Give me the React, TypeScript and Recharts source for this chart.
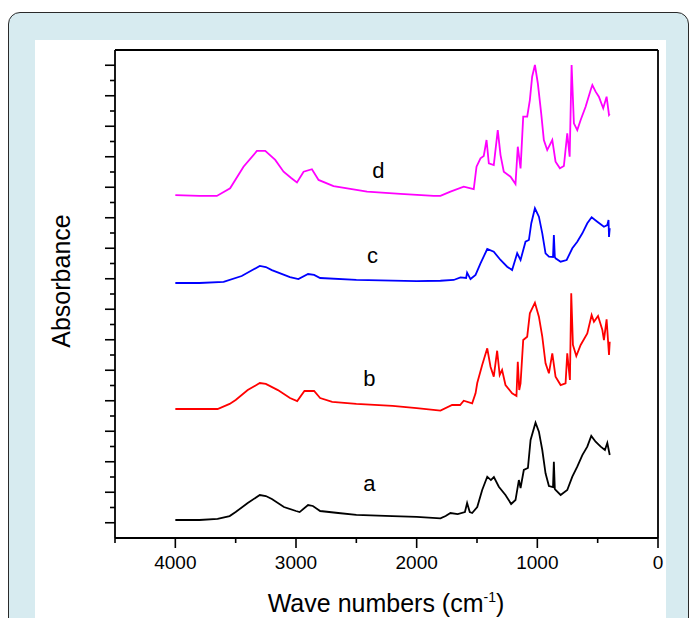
import { LineChart, Line, XAxis, YAxis, ReferenceDot } from 'recharts';

// wave numbers (cm-1) and absorbance
const waveA = [4000, 3800, 3650, 3550, 3500, 3400, 3300, 3250, 3200, 3100, 3000, 2970, 2900, 2860, 2800, 2650, 2500, 2200, 2000, 1803, 1760, 1720, 1660, 1600, 1582, 1560, 1540, 1498, 1457, 1415, 1385, 1360, 1319, 1264, 1217, 1181, 1153, 1139, 1112, 1078, 1056, 1015, 987, 959, 932, 904, 870, 863, 855, 849, 807, 752, 710, 669, 627, 586, 553, 517, 475, 440, 420, 400];
const absA = [1.18, 1.18, 1.25, 1.44, 1.7, 2.3, 2.82, 2.75, 2.56, 2.03, 1.77, 1.7, 2.16, 2.1, 1.77, 1.64, 1.51, 1.44, 1.38, 1.29, 1.44, 1.64, 1.57, 1.7, 2.3, 1.7, 1.64, 2.03, 3.15, 4.02, 3.8, 4.0, 3.36, 2.82, 2.23, 2.49, 3.8, 3.28, 4.46, 4.59, 6.43, 7.56, 6.97, 5.77, 4.24, 3.41, 3.34, 5.0, 3.21, 3.15, 2.82, 3.15, 4.02, 4.68, 5.44, 5.99, 6.69, 6.31, 5.99, 5.77, 6.23, 5.44];

const waveB = [4000, 3800, 3650, 3550, 3500, 3400, 3300, 3250, 3150, 3050, 2990, 2930, 2850, 2800, 2700, 2500, 2200, 2000, 1803, 1706, 1640, 1610, 1540, 1512, 1498, 1457, 1415, 1388, 1361, 1333, 1312, 1292, 1264, 1209, 1173, 1162, 1150, 1139, 1117, 1084, 1062, 1020, 987, 959, 932, 904, 876, 849, 807, 766, 752, 730, 719, 705, 677, 641, 586, 550, 531, 497, 461, 448, 426, 406, 400];
const absB = [8.46, 8.46, 8.46, 8.79, 9.05, 9.7, 10.16, 10.1, 9.7, 9.18, 8.98, 9.64, 9.64, 9.18, 8.92, 8.79, 8.66, 8.52, 8.35, 8.72, 8.72, 9.0, 8.83, 9.49, 10.16, 11.34, 12.44, 11.23, 10.58, 12.28, 10.69, 11.02, 10.03, 9.49, 9.31, 11.56, 9.7, 10.14, 12.98, 13.2, 14.73, 15.43, 14.51, 13.2, 11.46, 10.8, 12.11, 10.58, 10.03, 10.14, 12.11, 10.36, 16.05, 12.66, 11.93, 12.66, 13.42, 14.62, 14.18, 14.56, 13.64, 12.98, 14.34, 12.0, 12.87];

const waveC = [4000, 3800, 3600, 3450, 3300, 3250, 3200, 3050, 2980, 2900, 2850, 2800, 2500, 2000, 1803, 1693, 1637, 1590, 1582, 1554, 1512, 1471, 1415, 1361, 1305, 1250, 1209, 1167, 1139, 1098, 1070, 1050, 1020, 987, 959, 932, 904, 870, 863, 855, 849, 807, 757, 710, 669, 627, 586, 550, 503, 448, 420, 410, 406, 400];
const absC = [16.72, 16.72, 16.79, 17.18, 17.84, 17.77, 17.57, 17.11, 16.98, 17.31, 17.25, 17.05, 16.92, 16.85, 16.87, 16.92, 17.09, 17.05, 17.4, 16.98, 17.25, 18.01, 18.95, 18.77, 18.23, 17.79, 17.57, 18.67, 18.23, 19.43, 19.54, 20.64, 21.62, 21.07, 19.98, 18.67, 18.45, 18.43, 19.87, 18.43, 18.34, 18.12, 18.23, 19.0, 19.43, 19.98, 20.64, 21.03, 20.74, 20.41, 20.52, 20.85, 19.74, 20.31];

const waveD = [4000, 3800, 3656, 3546, 3435, 3324, 3255, 3172, 3103, 3040, 2992, 2937, 2868, 2813, 2689, 2411, 2135, 1859, 1803, 1720, 1610, 1527, 1504, 1471, 1444, 1421, 1402, 1361, 1328, 1305, 1278, 1222, 1181, 1162, 1139, 1117, 1084, 1062, 1043, 1020, 996, 968, 946, 918, 876, 849, 813, 780, 752, 732, 716, 697, 669, 641, 600, 558, 544, 517, 490, 454, 426, 406, 400];
const absD = [22.49, 22.43, 22.43, 22.93, 24.35, 25.38, 25.38, 24.79, 24.02, 23.61, 23.32, 24.02, 24.18, 23.48, 23.08, 22.71, 22.56, 22.43, 22.43, 22.71, 23.04, 22.87, 24.35, 24.9, 25.05, 26.1, 24.57, 24.46, 26.75, 25.11, 24.02, 23.69, 23.21, 25.66, 24.24, 27.63, 27.63, 28.72, 30.25, 31.02, 29.82, 27.85, 26.1, 25.44, 26.1, 24.68, 24.24, 24.39, 26.54, 25.0, 31.02, 27.19, 26.75, 27.41, 28.28, 29.38, 29.7, 29.27, 28.94, 28.18, 28.94, 27.74, 27.8];

const seriesNames = ['a', 'b', 'c', 'd'];
const seriesColors = ['#000000', '#ff0000', '#0000ff', '#ff00ff'];
const labelWave = [2392, 2392, 2367, 2317];
const labelAbs = [3.08, 9.97, 18.03, 23.61];

const xTicks = [4500, 4000, 3500, 3000, 2500, 2000, 1500, 1000, 500, 0];
const yTicks = Array.from({ length: 31 }, (_, i) => i + 1);

const FONT = '"Liberation Sans", Arial, sans-serif';

const toRows = (w: number[], a: number[]) => w.map((x, i) => ({ w: x, v: a[i] }));
const allSeries = [toRows(waveA, absA), toRows(waveB, absB), toRows(waveC, absC), toRows(waveD, absD)];

// side: which axis, tick direction handled here
const makeTick = (side: 'bottom' | 'top' | 'left' | 'right') => (props: any) => {
  const { x, y, payload } = props;
  const major = side === 'left' || side === 'right' ? payload.value % 2 === 1 : payload.value % 1000 === 0;
  const len = major ? 10 : 5;
  let x2 = x, y2 = y;
  if (side === 'bottom') y2 = y + len;
  if (side === 'top') y2 = y + len;
  if (side === 'left') x2 = x - len;
  if (side === 'right') x2 = x - len;
  return (
    <g>
      <line x1={x} y1={y} x2={x2} y2={y2} stroke="#000" strokeWidth={1.6} />
      {side === 'bottom' && major && (
        <text x={x} y={y + 31} textAnchor="middle" fontSize={19} fontFamily={FONT} fill="#000">
          {payload.value}
        </text>
      )}
    </g>
  );
};

export default function App() {
  return (
    <div style={{ position: 'absolute', left: 0, top: 0, width: 691, height: 618, overflow: 'hidden', background: '#fff' }}>
      <div style={{
        position: 'absolute', left: 8, top: 12, width: 679, height: 660,
        border: '1.5px solid #2a2a2a', borderRadius: 12, background: '#d7ebf0'
      }} />
      <div style={{ position: 'absolute', left: 35, top: 40, width: 631, height: 600, background: '#fff', overflow: 'hidden' }}>
        <div style={{ position: 'absolute', left: -35, top: -40 }}>
          <LineChart width={691} height={618} margin={{ top: 45, right: 28, bottom: 40, left: 95 }}>
            <XAxis
              dataKey="w" type="number" domain={[0, 4500]} reversed ticks={xTicks} interval={0}
              height={40} tickSize={0} tickMargin={0} tickLine={false}
              axisLine={{ stroke: '#000', strokeWidth: 1.8 }}
              tick={makeTick('bottom')}
              label={() => (
                <text x={386} y={612} textAnchor="middle" fontSize={25} fontFamily={FONT} fill="#000">
                  <tspan>Wave numbers (cm</tspan>
                  <tspan dy={-10} fontSize={14}>-1</tspan>
                  <tspan dy={10}>)</tspan>
                </text>
              )}
            />
            <XAxis
              xAxisId="top" orientation="top" dataKey="w" type="number" domain={[0, 4500]} reversed
              ticks={xTicks} interval={0} height={5} tickSize={0} tickMargin={0} tickLine={false}
              axisLine={{ stroke: '#000', strokeWidth: 1.8 }}
              tick={makeTick('top')}
            />
            <YAxis
              type="number" domain={[0, 32]} ticks={yTicks} interval={0} width={20}
              tickSize={0} tickMargin={0} tickLine={false}
              axisLine={{ stroke: '#000', strokeWidth: 1.8 }}
              tick={makeTick('left')}
              label={() => (
                <text x={70} y={281} transform="rotate(-90 70 281)" textAnchor="middle" fontSize={25} fontFamily={FONT} fill="#000">
                  Absorbance
                </text>
              )}
            />
            <YAxis
              yAxisId="right" orientation="right" type="number" domain={[0, 32]} ticks={yTicks} interval={0}
              width={5} tickSize={0} tickMargin={0} tickLine={false}
              axisLine={{ stroke: '#000', strokeWidth: 1.8 }}
              tick={makeTick('right')}
            />
            {allSeries.map((rows, i) => (
              <Line
                key={seriesNames[i]}
                data={rows}
                dataKey="v"
                type="linear"
                stroke={seriesColors[i]}
                strokeWidth={1.8}
                dot={false}
                isAnimationActive={false}
              />
            ))}
            {seriesNames.map((n, i) => (
              <ReferenceDot
                key={'lbl' + n}
                x={labelWave[i]}
                y={labelAbs[i]}
                r={0}
                shape={(p: any) => (
                  <text x={p.cx} y={p.cy} textAnchor="middle" fontSize={22} fontFamily={FONT} fill="#000">{n}</text>
                )}
              />
            ))}
          </LineChart>
        </div>
      </div>
    </div>
  );
}
